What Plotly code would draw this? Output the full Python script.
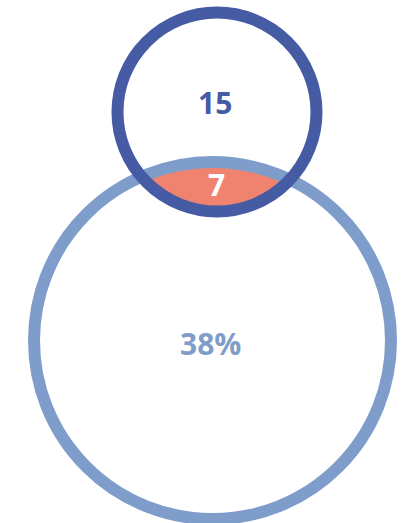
import numpy as np
import plotly.graph_objects as go

# Data
set_labels = ["15", "38%"]
overlap_label = "7"

# Geometry / styling (layout constants, pixels)
W, H = 408, 523
A_c, A_r = (217.0, 112.0), 99.5     # small circle
B_c, B_r = (212.5, 340.5), 178.5    # large circle
dark = "#455ca4"
light = "#7f9dca"
salmon = "#f0836f"

ax, ay = A_c
bx, by = B_c
d = np.hypot(bx - ax, by - ay)
alpha = np.arccos((d**2 + A_r**2 - B_r**2) / (2 * d * A_r))
beta = np.arccos((d**2 + B_r**2 - A_r**2) / (2 * d * B_r))
phi0 = np.arctan2(by - ay, bx - ax)
psi0 = np.arctan2(ay - by, ax - bx)
t1 = np.linspace(-alpha, alpha, 200)
t2 = np.linspace(-beta, beta, 200)
lx = np.concatenate([ax + A_r * np.cos(phi0 + t1), bx + B_r * np.cos(psi0 + t2)])
ly = np.concatenate([ay + A_r * np.sin(phi0 + t1), by + B_r * np.sin(psi0 + t2)])

fig = go.Figure()
fig.add_trace(go.Scatter(x=lx, y=ly, mode="lines", fill="toself",
                         fillcolor=salmon, line=dict(width=0, color=salmon),
                         hoverinfo="skip", showlegend=False))

fig.add_shape(type="circle", xref="x", yref="y",
              x0=bx - B_r, x1=bx + B_r, y0=by - B_r, y1=by + B_r,
              line=dict(color=light, width=12))
fig.add_shape(type="circle", xref="x", yref="y",
              x0=ax - A_r, x1=ax + A_r, y0=ay - A_r, y1=ay + A_r,
              line=dict(color=dark, width=12))

font = "Open Sans"
fig.add_annotation(x=215, y=102, text="<b>%s</b>" % set_labels[0], showarrow=False,
                   font=dict(family=font, size=30, color=dark))
fig.add_annotation(x=216, y=184, text="<b>%s</b>" % overlap_label, showarrow=False,
                   font=dict(family=font, size=30, color="white"))
fig.add_annotation(x=210, y=343, text="<b>%s</b>" % set_labels[1], showarrow=False,
                   font=dict(family=font, size=30, color=light))

fig.update_layout(width=W, height=H, margin=dict(l=0, r=0, t=0, b=0),
                  paper_bgcolor="white", plot_bgcolor="white",
                  xaxis=dict(range=[0, W], visible=False, fixedrange=True),
                  yaxis=dict(range=[H, 0], visible=False, fixedrange=True))
fig.write_html("out.html", config={"displayModeBar": False},
               post_script="document.body.style.margin='0';document.body.style.overflow='hidden';")
